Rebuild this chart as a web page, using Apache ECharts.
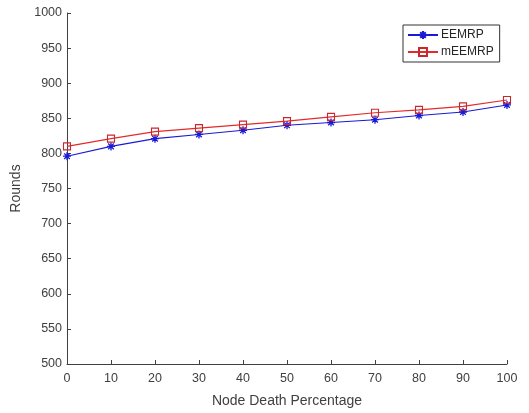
<!DOCTYPE html>
<html><head><meta charset="utf-8">
<script src="https://cdn.jsdelivr.net/npm/echarts@6/dist/echarts.min.js"></script>
<style>html,body{margin:0;padding:0;background:#fff}#c{width:529px;height:413px}</style>
</head><body><div id="c"></div>
<script>
var xValues = [0, 10, 20, 30, 40, 50, 60, 70, 80, 90, 100];
var eemrp = [796, 810, 821, 827, 833, 840, 844, 848, 854, 859, 869];
var meemrp = [810, 821, 831, 836, 841, 846, 852, 858, 862, 867, 876];
var seriesNames = ['EEMRP', 'mEEMRP'];

function pairs(ys){ return xValues.map(function(x,i){ return [x, ys[i]]; }); }
var star = 'path://M0,-10L0,10M-10,0L10,0M-7,-7L7,7M-7,7L7,-7';
var font = 'Liberation Sans, Arial, sans-serif';
var chart = echarts.init(document.getElementById('c'), null, {renderer:'canvas'});
chart.setOption({
  animation:false,
  backgroundColor:'#fff',
  grid:{left:67, right:22, top:13, bottom:49, containLabel:false},
  legend:{
    orient:'vertical', left:403, top:25, width:96,
    borderColor:'#333', borderWidth:1, borderRadius:0,
    padding:[4,6,4,4], itemGap:5, itemWidth:30, itemHeight:10,
    textStyle:{fontFamily:font, fontSize:12, color:'#262626', padding:[0,0,0,-2]},
    data:seriesNames
  },
  xAxis:{
    type:'value', min:0, max:100, interval:10,
    name:'Node Death Percentage', nameLocation:'middle', nameGap:30,
    nameTextStyle:{fontFamily:font, fontSize:14, color:'#404040'},
    axisLine:{show:true, onZero:false, lineStyle:{color:'#404040', width:1}},
    axisTick:{show:true, inside:true, length:4, lineStyle:{color:'#404040'}},
    axisLabel:{fontFamily:font, fontSize:12.5, color:'#404040', margin:8},
    splitLine:{show:false}
  },
  yAxis:{
    type:'value', min:500, max:1000, interval:50,
    name:'Rounds', nameLocation:'middle', nameGap:39, nameRotate:90,
    nameTextStyle:{fontFamily:font, fontSize:14, color:'#404040'},
    axisLine:{show:true, onZero:false, lineStyle:{color:'#404040', width:1}},
    axisTick:{show:true, inside:true, length:4, lineStyle:{color:'#404040'}},
    axisLabel:{fontFamily:font, fontSize:12.5, color:'#404040', margin:5,
      formatter:function(v){ return String(v); }},
    splitLine:{show:false}
  },
  series:[
    {name:seriesNames[0], type:'line', data:pairs(eemrp),
     symbol:star, symbolSize:8, showAllSymbol:true,
     lineStyle:{color:'#1a1ad6', width:1.1},
     itemStyle:{color:'#1a1ad6', borderColor:'#1a1ad6', borderWidth:1.3}},
    {name:seriesNames[1], type:'line', data:pairs(meemrp),
     symbol:'rect', symbolSize:7, showAllSymbol:true,
     lineStyle:{color:'#e52a2a', width:1.1},
     itemStyle:{color:'rgba(255,255,255,0)', borderColor:'#c8282c', borderWidth:1.1}}
  ]
});
</script></body></html>
